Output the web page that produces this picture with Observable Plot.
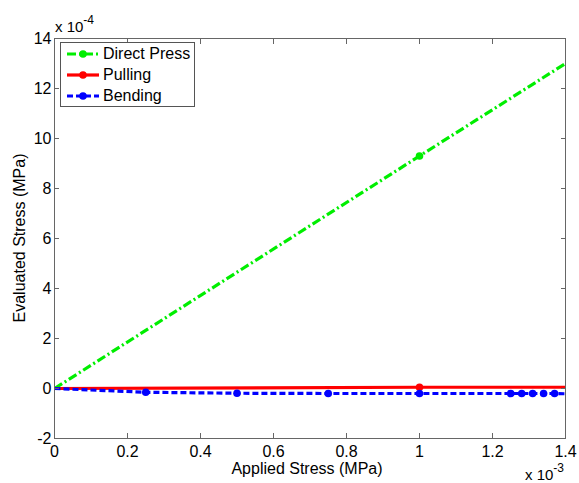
<!DOCTYPE html>
<html>
<head>
<meta charset="utf-8">
<script src="https://cdn.jsdelivr.net/npm/d3@7"></script>
<script src="https://cdn.jsdelivr.net/npm/@observablehq/plot@0.6"></script>
<style>
  body { margin: 0; background: #fff; font-family: "Liberation Sans", Arial, sans-serif; }
  #wrap { position: relative; width: 579px; height: 483px; }
  .lbl { position: absolute; font-size: 16px; line-height: 1; color: #000; white-space: nowrap; }
  .legend { position: absolute; left: 60px; top: 42px; width: 133px; height: 63px; border: 1px solid #555; background: #fff; }
  .legend .row { position: absolute; left: 5px; height: 20px; display: flex; align-items: center; font-size: 16px; line-height: 1; white-space: nowrap; }
  .legend svg { margin-right: 3px; flex: none; }
  sup { font-size: 12px; position: relative; top: -2px; }
</style>
</head>
<body>
<div id="wrap"></div>
<script>
// ---- data (x in 1e-3 MPa, y in 1e-4 MPa) ----
const directX = [0, 1.0, 1.4];
const directY = [0, 9.3, 13.0];
const pullingX = [0, 1.0, 1.4];
const pullingY = [0, 0.05, 0.05];
const bendingX = [0, 0.25, 0.5, 0.75, 1.0, 1.25, 1.28, 1.31, 1.34, 1.37, 1.4];
const bendingY = [0, -0.15, -0.19, -0.2, -0.2, -0.2, -0.2, -0.2, -0.2, -0.2, -0.21];
const xTicks = [0, 0.2, 0.4, 0.6, 0.8, 1, 1.2, 1.4];
const yTicks = [-2, 0, 2, 4, 6, 8, 10, 12, 14];
const seriesNames = ["Direct Press", "Pulling", "Bending"];
const seriesColors = ["#00ee00", "#ff0000", "#0000ff"];
const seriesDash = ["9,3,2,3", "none", "6,3"];

const toRows = (xs, ys) => xs.map((x, i) => ({x, y: ys[i]}));
const series = [toRows(directX, directY), toRows(pullingX, pullingY), toRows(bendingX, bendingY)];
const xMax = 1.4;

const marks = [];
series.forEach((rows, i) => {
  marks.push(Plot.line(rows, {x: "x", y: "y", stroke: seriesColors[i], strokeWidth: 3.2,
    strokeDasharray: seriesDash[i], strokeLinecap: "butt", strokeLinejoin: "miter", clip: true}));
  marks.push(Plot.dot(rows.filter(d => d.x > 0 && d.x < xMax), {x: "x", y: "y", r: 3.8,
    fill: seriesColors[i], stroke: null, clip: true}));
});

const axisStyle = {fontSize: 16, tickSize: -5, stroke: "#666", color: "#000", label: null};
const chart = Plot.plot({
  width: 579,
  height: 483,
  marginLeft: 54,
  marginRight: 14,
  marginTop: 38,
  marginBottom: 45,
  style: {fontFamily: "'Liberation Sans', Arial, sans-serif", fontSize: "16px", color: "#000", background: "#fff"},
  x: {domain: [0, 1.4]},
  y: {domain: [-2, 14]},
  marks: [
    ...marks,
    Plot.frame({stroke: "#666"}),
    Plot.axisX(xTicks, {...axisStyle, anchor: "bottom", tickPadding: 12, tickFormat: d => String(d)}),
    Plot.axisX(xTicks, {...axisStyle, anchor: "top", tickFormat: () => ""}),
    Plot.axisY(yTicks, {...axisStyle, anchor: "left", tickPadding: 8, tickFormat: d => String(d)}),
    Plot.axisY(yTicks, {...axisStyle, anchor: "right", tickFormat: () => ""})
  ]
});

const wrap = document.getElementById("wrap");
wrap.appendChild(chart);

function addLabel(html, css) {
  const d = document.createElement("div");
  d.className = "lbl";
  d.innerHTML = html;
  Object.assign(d.style, css);
  wrap.appendChild(d);
  return d;
}
addLabel("x 10<sup>-4</sup>", {left: "55px", top: "16px", fontSize: "15px"});
addLabel("x 10<sup>-3</sup>", {left: "525px", top: "464px", fontSize: "15px"});
addLabel("Applied Stress (MPa)", {left: "307px", top: "461px", transform: "translateX(-50%)"});
addLabel("Evaluated Stress (MPa)", {left: "20px", top: "238px", transform: "translate(-50%,-50%) rotate(-90deg)"});

// legend
const leg = document.createElement("div");
leg.className = "legend";
seriesNames.forEach((name, i) => {
  const row = document.createElement("div");
  row.className = "row";
  row.style.top = (1 + i * 21) + "px";
  const dash = seriesDash[i] !== "none" ? `stroke-dasharray="${seriesDash[i]}"` : "";
  row.innerHTML = `<svg width="34" height="12"><line x1="1" y1="6" x2="33" y2="6" stroke="${seriesColors[i]}" stroke-width="3.2" ${dash}/><circle cx="17" cy="6" r="3.8" fill="${seriesColors[i]}"/></svg><span>${name}</span>`;
  leg.appendChild(row);
});
wrap.appendChild(leg);
</script>
</body>
</html>
